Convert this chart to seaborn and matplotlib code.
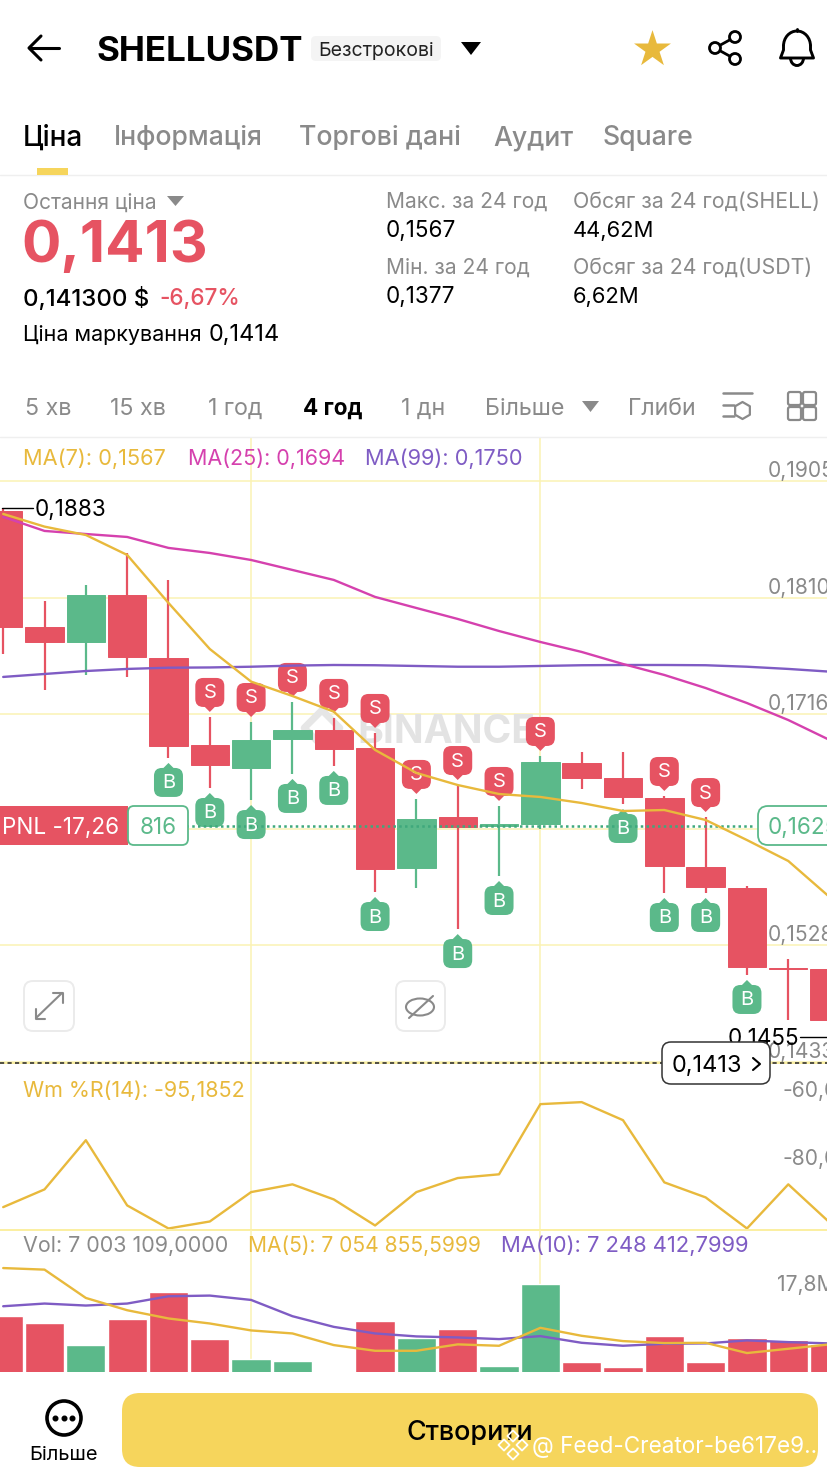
import numpy as np
import pandas as pd
import matplotlib
matplotlib.use('Agg')
import matplotlib.pyplot as plt
import seaborn as sns
from matplotlib.patches import FancyBboxPatch, Rectangle, Polygon, Circle, Arc, Ellipse

# candles
opens = [.18806, .17864, .17742, .18124, .17612, .16905, .16718, .1695, .17027, .16877, .15906,
         .16318, .16247, .16263, .16759, .16637, .16475, .15914, .15744, .15094, .15086]
highs = [.1883, .18075, .18205, .18465, .18246, .17133, .17092, .17255, .17125, .17003, .16467,
         .1658, .1641, .16816, .16848, .16848, .16491, .1632, .1576, .15167, .15086]
lows = [.17645, .17352, .17474, .17458, .168, .16556, .16458, .1667, .16735, .15711, .15744,
        .1541, .15841, .16223, .16548, .16426, .15703, .15703, .15037, .14671, .14533]
closes = [.17864, .17742, .18124, .1762, .16901, .16739, .16946, .17027, .16873, .15898, .16304,
          .16239, .16263, .16767, .16637, .16483, .15922, .15752, .15102, .15086, .14671]
ma7 = [.18782, .18679, .18611, .18449, .18059, .17685, .1742, .17303, .17176, .16865, .16678,
       .1658, .16507, .16483, .16434, .16369, .16377, .16296, .16133, .15963, .1567]
ma25 = [.18758, .18644, .18619, .18595, .18506, .18465, .18408, .18327, .18246, .18108, .18018,
        .17929, .17831, .17742, .17661, .17563, .17474, .17368, .17246, .17108, .16946]
ma99 = [.17458, .17482, .17506, .17523, .17533, .17535, .17541, .1755, .17555, .17553, .17547,
        .17541, .17541, .17547, .17553, .17555, .17555, .17553, .17541, .17523, .17501]
wr = [-93.44, -88.24, -73.82, -92.94, -99.7, -97.65, -89.03, -86.76, -91.18, -98.82, -89.03,
      -84.91, -83.82, -63.24, -62.65, -67.94, -86.18, -90.59, -99.7, -86.76, -97.94]
vol = [13.4, 11.89, 7.16, 12.62, 18.65, 8.45, 4.09, 3.72, 1.0, 12.19, 8.54,
       10.54, 2.58, 20.37, 3.44, 2.3, 9.03, 3.38, 8.67, 8.11, 7.31]
vol_ma5 = [23.72, 23.38, 17.27, 14.62, 12.84, 11.76, 10.26, 9.61, 7.1, 5.87, 5.87,
           7.25, 6.95, 10.82, 9.1, 7.96, 7.53, 7.59, 5.38, 6.3, 7.25]
vol_ma10 = [15.48, 16.06, 15.63, 16.06, 17.63, 17.78, 16.84, 13.33, 11.03, 9.61, 8.97,
            8.75, 8.39, 9.03, 7.59, 6.95, 7.38, 7.46, 8.11, 7.74, 7.46]
sell_marks = [5, 6, 7, 8, 9, 10, 11, 12, 13, 16, 17]
buy_marks = [4, 5, 6, 7, 8, 9, 11, 12, 15, 16, 17, 18]
price_ticks = [.1905, .1810, .1716, .1622, .1528, .1433]
price_labels = ['0,1905', '0,1810', '0,1716', '', '0,1528', '0,1433']

RED = '#E65362'
GREEN = '#5BB98A'
YELLOW = '#E8B93C'
PINK = '#D541AE'
PURPLE = '#7F5CC4'
GRID = '#FBF2B4'
GREY = '#8A8A8A'
W, H = 828, 1471

sns.set_theme(style='white')
plt.rcParams['font.family'] = ['Inter', 'DejaVu Sans']

idx = np.arange(len(opens))
df = pd.DataFrame({'i': idx, 'o': opens, 'h': highs, 'l': lows, 'c': closes, 'ma7': ma7, 'ma25': ma25,
                   'ma99': ma99, 'wr': wr, 'vol': vol, 'vma5': vol_ma5, 'vma10': vol_ma10})
df['up'] = df['c'] > df['o']
df['side'] = np.where(df['up'], 'up', 'down')

fig = plt.figure(figsize=(W / 100, H / 100), dpi=100, facecolor='white')


def panel(top, bottom, ymin, ymax):
    ax = fig.add_axes([0, 1 - bottom / H, 1, (bottom - top) / H])
    ax.set_xlim(-3.2 / 41.32, (W - 3.2) / 41.32)
    ax.set_ylim(ymin, ymax)
    ax.patch.set_alpha(0)
    for s in ax.spines.values():
        s.set_visible(False)
    return ax


def finish(ax, ymin, ymax):
    ax.set_xlim(-3.2 / 41.32, (W - 3.2) / 41.32)
    ax.set_ylim(ymin, ymax)
    ax.set_xlabel('')
    ax.set_ylabel('')
    ax.set_xticks([6, 13])
    ax.tick_params(length=0, labelbottom=False, labelleft=False)
    ax.grid(True, axis='x', color=GRID, lw=1.1)


ui = fig.add_axes([0, 0, 1, 1], zorder=10)
ui.set_xlim(0, W)
ui.set_ylim(H, 0)
ui.axis('off')
ui.patch.set_alpha(0)


def T(x, y, s, px, color='black', weight='normal', ha='left', **kw):
    # centre alignment sits a bit high for this font
    return ui.text(x, y + 4, s, fontsize=px * 0.72, color=color, fontweight=weight, ha=ha, va='center', **kw)


def box(x0, y0, x1, y1, r, fc, ec='none', lw=1.0, ax=ui, z=2):
    p = FancyBboxPatch((x0 + r, y0 + r), x1 - x0 - 2 * r, y1 - y0 - 2 * r, boxstyle=f'round,pad={r},rounding_size={r}',
                       fc=fc, ec=ec, lw=lw, transform=ui.transData, zorder=z)
    ax.add_patch(p)
    return p


# price panel
pmin, pmax = .14322, .19407
ax_p = panel(437, 1063, pmin, pmax)
ax_p.set_yticks(price_ticks)
for i, row in df.iterrows():
    col = GREEN if row['up'] else RED
    ax_p.vlines(row['i'], row['l'], row['h'], color=col, lw=1.6, zorder=2)
    ax_p.bar(row['i'], abs(row['c'] - row['o']), bottom=min(row['o'], row['c']), width=0.93, color=col,
             edgecolor=col, lw=0.7, zorder=2.5)
for name, col in [('ma99', PURPLE), ('ma25', PINK), ('ma7', YELLOW)]:
    sns.lineplot(data=df, x='i', y=name, color=col, lw=1.7, ax=ax_p, zorder=4, legend=False)
finish(ax_p, pmin, pmax)
ax_p.grid(True, axis='y', color=GRID, lw=1.1)
ax_p.set_axisbelow(True)

# williams panel
wmin, wmax = -100, -51.18
ax_w = panel(1063, 1229.5, wmin, wmax)
sns.lineplot(data=df, x='i', y='wr', color=YELLOW, lw=1.7, ax=ax_w, legend=False, clip_on=False)
finish(ax_w, wmin, wmax)
ax_w.set_yticks([])
ax_w.spines['bottom'].set_visible(True)
ax_w.spines['bottom'].set_color('#FBEFA0')
ax_w.spines['bottom'].set_linewidth(1.4)

# volume panel
vmin, vmax = 1.29, 32.04
ax_v = panel(1229.5, 1372, vmin, vmax)
sns.barplot(data=df, x='i', y='vol', hue='side', palette={'up': GREEN, 'down': RED}, native_scale=True, dodge=False,
            width=0.95, saturation=1, legend=False, ax=ax_v, zorder=2)
for name, col in [('vma10', PURPLE), ('vma5', YELLOW)]:
    sns.lineplot(data=df, x='i', y=name, color=col, lw=1.7, ax=ax_v, zorder=4, legend=False)
finish(ax_v, vmin, vmax)
ax_v.set_yticks([])


def to_ui(ax, x, y):
    return ui.transData.inverted().transform(ax.transData.transform((x, y)))


# watermark stays under the candles
ax_p.text(357, 732, 'BINANCE', fontsize=39 * 0.72, color='#E3E3E3', fontweight='bold', va='center',
          transform=ui.transData, zorder=1)
ax_p.scatter([322], [728], marker='D', s=330, facecolor='none', edgecolor='#E6E6E6', linewidths=5,
             transform=ui.transData, zorder=1)


# buy / sell badges anchored on the wicks
def badge(i, price, letter):
    x, y = to_ui(ax_p, i, price)
    if letter == 'S':
        tip = y - 5
        y0, y1 = tip - 34, tip - 5
        pts = [(x - 6, y1 - 1), (x + 6, y1 - 1), (x, tip)]
        col = RED
    else:
        tip = y + 5
        y0, y1 = tip + 5, tip + 34
        pts = [(x - 6, y0 + 1), (x + 6, y0 + 1), (x, tip)]
        col = GREEN
    box(x - 14.5, y0, x + 14.5, y1, 8, col, ax=ax_p, z=3)
    ax_p.add_patch(Polygon(pts, fc=col, ec='none', transform=ui.transData, zorder=3))
    ax_p.text(x, (y0 + y1) / 2 + 1, letter, color='white', fontsize=14.5, ha='center', va='center',
              transform=ui.transData, zorder=3.5)


for i in sell_marks:
    badge(i, highs[i], 'S')
for i in buy_marks:
    badge(i, lows[i], 'B')

# header
ui.plot([30, 59], [48, 48], color='black', lw=2.2)
ui.plot([41, 29, 41], [36, 48, 60], color='black', lw=2.2)
T(97, 48, 'SHELLUSDT', 35, weight='bold')
box(311, 36, 441, 61, 5, '#F4F4F4')
T(376, 47, 'Безстрокові', 19.5, ha='center', color='#222222')
ui.add_patch(Polygon([(461, 42), (481, 42), (471, 55)], fc='black', ec='none'))
ui.scatter([652], [49], marker='*', s=780, color=YELLOW, linewidths=0, zorder=3)
for cx, cy in [(735, 37), (715, 48), (735, 59)]:
    ui.add_patch(Circle((cx, cy), 5.5, fc='white', ec='black', lw=2, zorder=3))
ui.plot([735, 715, 735], [37, 48, 59], color='black', lw=2, zorder=2)
ui.add_patch(Arc((797, 46), 27, 30, theta1=180, theta2=360, color='black', lw=2.1))
ui.plot([783.5, 783.5, 780.5, 813.5, 810.5, 810.5], [46, 50, 58, 58, 50, 46], color='black', lw=2.1)
ui.add_patch(Arc((797, 58), 13, 15, theta1=0, theta2=180, color='black', lw=2.1))
ui.plot([797, 797], [29, 31], color='black', lw=2.1)

# tabs
T(23, 134, 'Ціна', 28, weight='medium')
for x, s in [(114, 'Інформація'), (299, 'Торгові дані'), (493, 'Аудит'), (603, 'Square')]:
    T(x, 134, s, 26.7, color=GREY, weight='medium')
ui.add_patch(Rectangle((37, 168), 31, 7, fc='#F6D55C', ec='none', zorder=3))
ui.plot([0, W], [175, 175], color='#EFEFEF', lw=1)

# ticker
T(23, 199, 'Остання ціна', 21, color=GREY)
ui.add_patch(Polygon([(167, 196), (184, 196), (175.5, 206)], fc=GREY, ec='none'))
T(21, 243, '0,1413', 58.5, color=RED, weight='bold')
T(23, 295, '0,141300 $', 24, weight='medium')
T(159, 295, '-6,67%', 22.5, color=RED, weight='medium')
T(23, 331, 'Ціна маркування', 21.5)
T(209, 331, '0,1414', 23.5)
T(386, 198, 'Макс. за 24 год', 21, color=GREY)
T(386, 227, '0,1567', 22.5)
T(386, 264, 'Мін. за 24 год', 21, color=GREY)
T(386, 293, '0,1377', 22.5)
T(573, 198, 'Обсяг за 24 год(SHELL)', 21.3, color=GREY)
T(573, 227, '44,62M', 22)
T(573, 264, 'Обсяг за 24 год(USDT)', 21.3, color=GREY)
T(573, 293, '6,62M', 22)

# periods
for x, s in [(25, '5 хв'), (110, '15 хв'), (208, '1 год'), (401, '1 дн'), (485, 'Більше')]:
    T(x, 405, s, 23.3, color=GREY)
T(303, 405, '4 год', 22.5, weight='bold')
ui.add_patch(Polygon([(582, 401), (599, 401), (590.5, 412)], fc=GREY, ec='none'))
t = T(628, 405, 'Глибина', 23.3, color=GREY)
t.set_clip_path(Rectangle((620, 385), 76, 45, transform=ui.transData))
t.set_clip_on(True)
ui.plot([723, 752], [393, 393], color=GREY, lw=1.8)
ui.plot([723, 734], [405, 405], color=GREY, lw=1.8)
ui.plot([723, 734], [416, 416], color=GREY, lw=1.8)
ui.scatter([742], [410], marker='h', s=150, facecolor='white', edgecolor=GREY, linewidths=1.6)
for x0 in (788, 803):
    for y0 in (392, 407):
        box(x0, y0, x0 + 13, y0 + 13, 2, 'white', ec=GREY, lw=1.6)
ui.plot([0, W], [437, 437], color='#EFEFEF', lw=1)

T(23, 455, 'MA(7): 0,1567', 21.8, color=YELLOW)
T(188, 455, 'MA(25): 0,1694', 21.5, color=PINK)
T(365, 455, 'MA(99): 0,1750', 21.8, color=PURPLE)

# price labels
for p, lab in zip(price_ticks, price_labels):
    T(768, to_ui(ax_p, 0, p)[1] - 14, lab, 21, color=GREY)
T(35, 506, '0,1883', 22.5)
ui.plot([2, 33], [508, 508], color='black', lw=1)
T(728, 1035, '0,1455', 22.5, zorder=3)
ui.plot([800, W], [1037, 1037], color='black', lw=1)

# position line
ax_p.hlines(.1625, 2.2, 18.2, color='#3FA97C', lw=1.8, linestyles=(0, (1, 1.3)), zorder=3)
ui.add_patch(Rectangle((0, 806), 128, 39, fc=RED, ec='none', zorder=3))
T(2, 824, 'PNL -17,26', 22.5, color='white', zorder=4)
box(128, 806, 188, 845, 6, 'white', ec=GREEN, lw=1.3, z=3)
T(158, 824, '816', 22.5, color=GREEN, ha='center', zorder=4)
box(758, 806, 860, 845, 10, 'white', ec=GREEN, lw=1.3, z=3)
T(768, 824, '0,1625', 22.5, color=GREEN, zorder=4)

# last price
ui.plot([0, W], [1063, 1063], color='#FBEFA0', lw=1.4, zorder=1)
ui.plot([0, W], [1063, 1063], color='#333333', lw=1.2, ls=(0, (2.5, 2)), zorder=1.5)
box(662, 1042, 770, 1084, 9, 'white', ec='#333333', lw=1.1, z=3)
T(672, 1062, '0,1413', 23.5, zorder=4)
ui.plot([753, 760, 753], [1058, 1064, 1070], color='black', lw=1.5, zorder=4)

# chart buttons
box(24, 981, 74, 1031, 9, 'white', ec='#EBEBEB', lw=1.4, z=3)
ui.plot([36, 62], [1018, 993], color=GREY, lw=1.5, zorder=4)
ui.plot([36, 36, 45], [1009, 1019, 1019], color=GREY, lw=1.5, zorder=4)
ui.plot([53, 63, 63], [993, 993, 1003], color=GREY, lw=1.5, zorder=4)
box(396, 981, 445, 1031, 9, 'white', ec='#EBEBEB', lw=1.4, z=3)
ui.add_patch(Ellipse((420, 1007), 28, 17, fc='white', ec=GREY, lw=1.5, zorder=4))
ui.plot([409, 433], [1018, 996], color=GREY, lw=1.5, zorder=5)

# indicator legends
T(23, 1087, 'Wm %R(14): -95,1852', 21.5, color=YELLOW)
T(783, 1087, '-60,0', 21, color=GREY)
T(783, 1155, '-80,0', 21, color=GREY)
T(23, 1242, 'Vol: 7 003 109,0000', 21.5, color=GREY)
T(248, 1242, 'MA(5): 7 054 855,5999', 21, color=YELLOW)
T(501, 1242, 'MA(10): 7 248 412,7999', 22, color=PURPLE)
T(777, 1281, '17,8M', 21, color=GREY)

# bottom bar
ui.add_patch(Rectangle((0, 1372), W, 99, fc='white', ec='none', zorder=1))
ui.add_patch(Circle((64, 1418), 17, fc='white', ec='black', lw=2.6, zorder=2))
ui.scatter([55.5, 64, 72.5], [1418, 1418, 1418], s=11, color='black', zorder=3)
T(63.5, 1451, 'Більше', 20, ha='center')
box(122, 1393, 818, 1467, 18, '#F6D55C')
T(470, 1429, 'Створити', 27, ha='center', weight='medium', zorder=4)
for dx, dy in [(0, -9), (-9, 0), (9, 0), (0, 9)]:
    ui.scatter([513 + dx], [1445 + dy], marker='D', s=32, facecolor='none', edgecolor='white', linewidths=1.3, zorder=5)
T(532, 1443, '@ Feed-Creator-be617e9...', 22.5, color='white', zorder=5)

fig.savefig('out.png', dpi=100, facecolor='white')
